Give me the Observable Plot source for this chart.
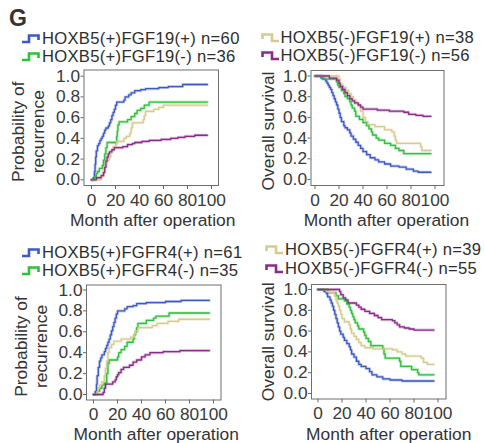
<!DOCTYPE html>
<html><head><meta charset="utf-8">
<script src="https://cdn.jsdelivr.net/npm/d3@7"></script>
<script src="https://cdn.jsdelivr.net/npm/@observablehq/plot@0.6"></script>
<style>
body{margin:0;background:#fff;}
#fig{position:relative;width:485px;height:443px;overflow:hidden;font-family:"Liberation Sans",Arial,sans-serif;color:#2a2a2a;}
#fig > svg{position:absolute;left:0;top:0;}
.lg{position:absolute;font-size:16.6px;line-height:16px;letter-spacing:0.3px;white-space:nowrap;color:#2e2e2e;}
#fig .lg svg{position:static;display:inline-block;vertical-align:baseline;margin-right:1px;}
.tag{position:absolute;font-size:23px;line-height:23px;font-weight:bold;color:#333;}
</style></head><body><div id="fig"></div>
<script>
// ---- legend labels ----
const groups19 = ["HOXB5(+)FGF19(+)", "HOXB5(+)FGF19(-)", "HOXB5(-)FGF19(+)", "HOXB5(-)FGF19(-)"];
const n19 = [60, 36, 38, 56];
const groupsR4 = ["HOXB5(+)FGFR4(+)", "HOXB5(+)FGFR4(-)", "HOXB5(-)FGFR4(+)", "HOXB5(-)FGFR4(-)"];
const nR4 = [61, 35, 39, 55];
const colors = ["#3b58c4", "#2fbf3a", "#d5cb8e", "#8a2b8c"];
const xTicks = [0, 20, 40, 60, 80, 100];
const yTicks = [0, 0.2, 0.4, 0.6, 0.8, 1.0];

// ---- FGF19: probability of recurrence [month, value] ----
const rec19_pp = [[0,0],[1.5,0.02],[2.5,0.08],[3,0.15],[3.5,0.22],[4,0.28],[5,0.33],[6,0.35],[7,0.38],[8,0.40],[9,0.42],[10,0.45],[11,0.48],[12,0.50],[14,0.52],[15,0.55],[16,0.58],[17,0.62],[18,0.65],[19,0.68],[20,0.72],[21,0.75],[27,0.77],[28,0.80],[31,0.82],[33,0.84],[36,0.86],[41,0.87],[45,0.88],[56,0.89],[64,0.90],[76,0.92],[96.5,0.92]];
const rec19_pm = [[0,0],[2.5,0.03],[4,0.06],[5,0.08],[6.5,0.11],[9,0.14],[10,0.19],[11,0.25],[12,0.31],[13,0.36],[21,0.42],[21.5,0.47],[22,0.53],[23,0.56],[30,0.58],[33,0.61],[36,0.64],[38,0.67],[41,0.69],[44,0.72],[48,0.75],[96.5,0.75]];
const rec19_mp = [[0,0],[8,0.03],[9,0.06],[10,0.1],[11,0.13],[12,0.16],[13,0.19],[15,0.22],[16,0.26],[17,0.29],[18,0.32],[20,0.34],[21,0.37],[27,0.40],[29,0.42],[32,0.45],[33,0.5],[34,0.55],[43,0.58],[44,0.62],[45,0.66],[52,0.68],[56,0.70],[60,0.72],[96.5,0.72]];
const rec19_mm = [[0,0],[4,0.02],[8,0.04],[10,0.07],[11,0.12],[12,0.18],[13,0.22],[14,0.25],[15,0.27],[17,0.29],[19,0.31],[26,0.32],[30,0.34],[34,0.35],[36,0.36],[42,0.37],[48,0.38],[58,0.39],[66,0.40],[72,0.41],[78,0.42],[86,0.43],[96.5,0.43]];

// ---- FGF19: overall survival ----
const os19_pp = [[0,1],[5,0.98],[7,0.97],[9,0.95],[10,0.93],[11,0.91],[12,0.89],[13,0.87],[14,0.84],[15,0.81],[16,0.78],[17,0.75],[18,0.72],[19,0.68],[20,0.64],[21,0.60],[22,0.56],[24,0.52],[25,0.50],[27,0.48],[29,0.45],[30,0.42],[32,0.39],[34,0.36],[36,0.33],[38,0.30],[40,0.27],[43,0.24],[46,0.21],[50,0.19],[53,0.17],[58,0.15],[63,0.13],[70,0.12],[76,0.10],[82,0.08],[86,0.07],[96.5,0.07]];
const os19_pm = [[0,1],[6,0.97],[18,0.94],[19,0.91],[20,0.89],[22,0.86],[24,0.83],[25,0.80],[27,0.78],[29,0.75],[30,0.72],[31,0.69],[33,0.66],[34,0.61],[37,0.58],[40,0.55],[43,0.52],[45,0.49],[47,0.46],[48,0.43],[51,0.40],[53,0.38],[58,0.35],[63,0.33],[67,0.30],[70,0.28],[74,0.25],[96.5,0.25]];
const os19_mp = [[0,1],[20,0.97],[21,0.92],[23,0.89],[26,0.86],[28,0.83],[30,0.80],[32,0.77],[34,0.74],[36,0.71],[38,0.66],[40,0.60],[42,0.56],[44,0.53],[50,0.51],[58,0.48],[64,0.46],[66,0.42],[67,0.38],[68,0.35],[88,0.32],[89,0.28],[96.5,0.28]];
const os19_mm = [[0,1],[12,0.98],[18,0.96],[20,0.93],[21,0.90],[23,0.87],[25,0.84],[27,0.81],[29,0.78],[31,0.76],[33,0.74],[36,0.72],[38,0.70],[40,0.68],[52,0.67],[62,0.66],[74,0.65],[78,0.63],[84,0.62],[90,0.61],[96.5,0.61]];

// ---- FGFR4: probability of recurrence ----
const recR4_pp = [[0,0],[1.5,0.03],[2.5,0.1],[3,0.18],[4,0.26],[5,0.32],[6,0.35],[7,0.38],[9,0.41],[10,0.44],[11,0.47],[12,0.50],[13,0.53],[14,0.57],[15,0.61],[16,0.65],[17,0.69],[18,0.73],[19,0.77],[20,0.80],[26,0.82],[28,0.84],[33,0.85],[36,0.87],[44,0.88],[60,0.89],[73,0.90],[96.5,0.90]];
const recR4_pm = [[0,0],[3,0.03],[5,0.06],[7,0.09],[9,0.11],[11,0.2],[12,0.3],[13,0.33],[20,0.36],[21,0.40],[23,0.43],[26,0.46],[28,0.50],[33,0.53],[34,0.57],[35,0.60],[36,0.64],[37,0.68],[44,0.71],[50,0.73],[52,0.75],[63,0.78],[96.5,0.78]];
const recR4_mp = [[0,0],[3,0.03],[4,0.06],[5,0.09],[7,0.12],[9,0.18],[10,0.25],[11,0.32],[12,0.40],[13,0.45],[15,0.48],[17,0.51],[23,0.53],[31,0.55],[34,0.58],[35,0.61],[37,0.64],[49,0.66],[53,0.68],[62,0.70],[71,0.72],[96.5,0.72]];
const recR4_mm = [[0,0],[8,0.02],[9,0.06],[10,0.10],[16,0.12],[18,0.14],[19,0.17],[20,0.19],[21,0.21],[23,0.24],[25,0.26],[30,0.28],[33,0.31],[36,0.33],[40,0.36],[43,0.38],[47,0.40],[58,0.41],[72,0.42],[96.5,0.42]];

// ---- FGFR4: overall survival ----
const osR4_pp = [[0,1],[5,0.98],[7,0.96],[8,0.93],[10,0.90],[11,0.87],[12,0.84],[13,0.80],[14,0.76],[15,0.72],[16,0.68],[17,0.64],[18,0.60],[19,0.57],[21,0.54],[22,0.51],[24,0.48],[26,0.45],[27,0.42],[28,0.38],[30,0.35],[32,0.31],[34,0.28],[36,0.26],[40,0.24],[43,0.21],[45,0.18],[49,0.16],[54,0.14],[60,0.13],[70,0.12],[96.5,0.12]];
const osR4_pm = [[0,1],[8,0.97],[15,0.94],[17,0.91],[22,0.89],[24,0.86],[26,0.83],[27,0.80],[28,0.77],[29,0.74],[30,0.71],[31,0.68],[33,0.65],[34,0.62],[38,0.59],[39,0.56],[40,0.53],[42,0.50],[44,0.46],[54,0.43],[55,0.38],[56,0.34],[68,0.31],[69,0.26],[78,0.23],[83,0.20],[84,0.18],[96.5,0.18]];
const osR4_mp = [[0,1],[7,0.98],[9,0.97],[14,0.94],[15,0.90],[16,0.87],[17,0.84],[18,0.80],[19,0.76],[20,0.72],[22,0.69],[26,0.66],[27,0.62],[28,0.58],[30,0.55],[32,0.52],[34,0.49],[36,0.46],[39,0.44],[46,0.43],[62,0.42],[66,0.40],[70,0.38],[73,0.36],[86,0.34],[88,0.30],[91,0.28],[96.5,0.28]];
const osR4_mm = [[0,1],[18,0.98],[19,0.95],[21,0.92],[23,0.90],[25,0.87],[32,0.85],[34,0.83],[36,0.81],[39,0.79],[43,0.77],[47,0.75],[50,0.73],[53,0.71],[62,0.70],[64,0.68],[66,0.66],[68,0.64],[72,0.63],[76,0.62],[80,0.61],[96.5,0.61]];

const fig = document.getElementById("fig");
const W = 485, H = 443;
const FONT = '"Liberation Sans", Arial, sans-serif';

function panel(o) {
  const kx = (o.x100 - o.x0) / 100;
  const ky = o.y0 - o.y1;
  const data = o.curves.flatMap((c, g) => c.map(([t, v]) => ({t, v, g})));
  const svg = Plot.plot({
    width: W, height: H,
    marginLeft: o.L, marginRight: W - o.R, marginTop: o.T, marginBottom: H - o.B,
    x: {domain: [(o.L - o.x0) / kx, (o.R - o.x0) / kx]},
    y: {domain: [(o.y0 - o.B) / ky, (o.y0 - o.T) / ky]},
    color: {type: "ordinal", domain: [0, 1, 2, 3], range: colors},
    style: {background: "transparent", fontFamily: FONT, fontSize: "17px", color: "#3a3a3a", overflow: "visible"},
    marks: [
      Plot.axisX({ticks: xTicks, tickFormat: d => String(d), tickSize: 4, tickPadding: 4, label: null, fontSize: 17.3, stroke: "#666"}),
      Plot.axisY({ticks: yTicks, tickFormat: d3.format(".1f"), tickSize: 3, tickPadding: 1, label: null, fontSize: 17.3, stroke: "#666"}),
      Plot.line(data, {x: "t", y: "v", z: "g", stroke: "g", curve: "step-after", strokeWidth: 3, strokeOpacity: 0.3}),
      Plot.line(data, {x: "t", y: "v", z: "g", stroke: "g", curve: "step-after", strokeWidth: 1.3}),
      Plot.frame({stroke: "#6e6e6e", strokeWidth: 1}),
      Plot.text([o.xlabel], {text: d => d, frameAnchor: "bottom", textAnchor: "middle", lineAnchor: "bottom", dx: o.xdx, dy: o.xdy, fontSize: 17.4, fill: "#333"}),
      Plot.text([o.ylabel], {text: d => d, frameAnchor: "left", textAnchor: "middle", rotate: -90, lineAnchor: "middle", lineHeight: 1.15, dx: o.ydx, dy: o.ydy, fontSize: 17.4, fill: "#333"})
    ]
  });
  fig.appendChild(svg);
}

function icon(color, up) {
  const p = up ? "M0,8 H7 V1.5 H16.5 V6" : "M1.5,6 V1.5 H11 V8 H18";
  return `<svg width="19" height="10" viewBox="0 0 19 10"><path d="${p}" fill="none" stroke="${color}" stroke-width="2.6"/></svg>`;
}
function legend(x, y, names, ns, idx, up) {
  idx.forEach((gi, k) => {
    const d = document.createElement("div");
    d.className = "lg";
    d.style.left = x + "px";
    d.style.top = (y + k * 18.4) + "px";
    d.innerHTML = icon(colors[gi], up) + `${names[gi]} n=${ns[gi]}`;
    fig.appendChild(d);
  });
}

panel({L: 83.5, R: 218, T: 69.5, B: 185, x0: 91, x100: 211, y0: 179.3, y1: 75.7,
  curves: [rec19_pp, rec19_pm, rec19_mp, rec19_mm],
  xlabel: "Month after operation", xdx: 1.5, xdy: 40,
  ylabel: "Probability of\nrecurrence", ydx: -56, ydy: 4});
panel({L: 310.5, R: 443.5, T: 70, B: 185, x0: 314.5, x100: 434.5, y0: 179, y1: 75.5,
  curves: [os19_pp, os19_pm, os19_mp, os19_mm],
  xlabel: "Month after operation", xdx: 9, xdy: 40,
  ylabel: "Overall survival", ydx: -43, ydy: 3});
panel({L: 86, R: 220.5, T: 284.5, B: 399.5, x0: 93, x100: 213, y0: 394, y1: 289.5,
  curves: [recR4_pp, recR4_pm, recR4_mp, recR4_mm],
  xlabel: "Month after operation", xdx: 2.5, xdy: 40,
  ylabel: "Probability of\nrecurrence", ydx: -56, ydy: 4});
panel({L: 311, R: 445.5, T: 284, B: 398.5, x0: 317.5, x100: 437.5, y0: 393, y1: 289,
  curves: [osR4_pp, osR4_pm, osR4_mp, osR4_mm],
  xlabel: "Month after operation", xdx: 10, xdy: 41,
  ylabel: "Overall survival", ydx: -43.5, ydy: 0});

legend(22, 30.6, groups19, n19, [0, 1], true);
legend(260.5, 29.9, groups19, n19, [2, 3], false);
legend(22, 244.6, groupsR4, nR4, [0, 1], true);
legend(265, 242.4, groupsR4, nR4, [2, 3], false);

const tag = document.createElement("div");
tag.className = "tag"; tag.style.left = "9px"; tag.style.top = "7px"; tag.textContent = "G";
fig.appendChild(tag);
</script></body></html>
